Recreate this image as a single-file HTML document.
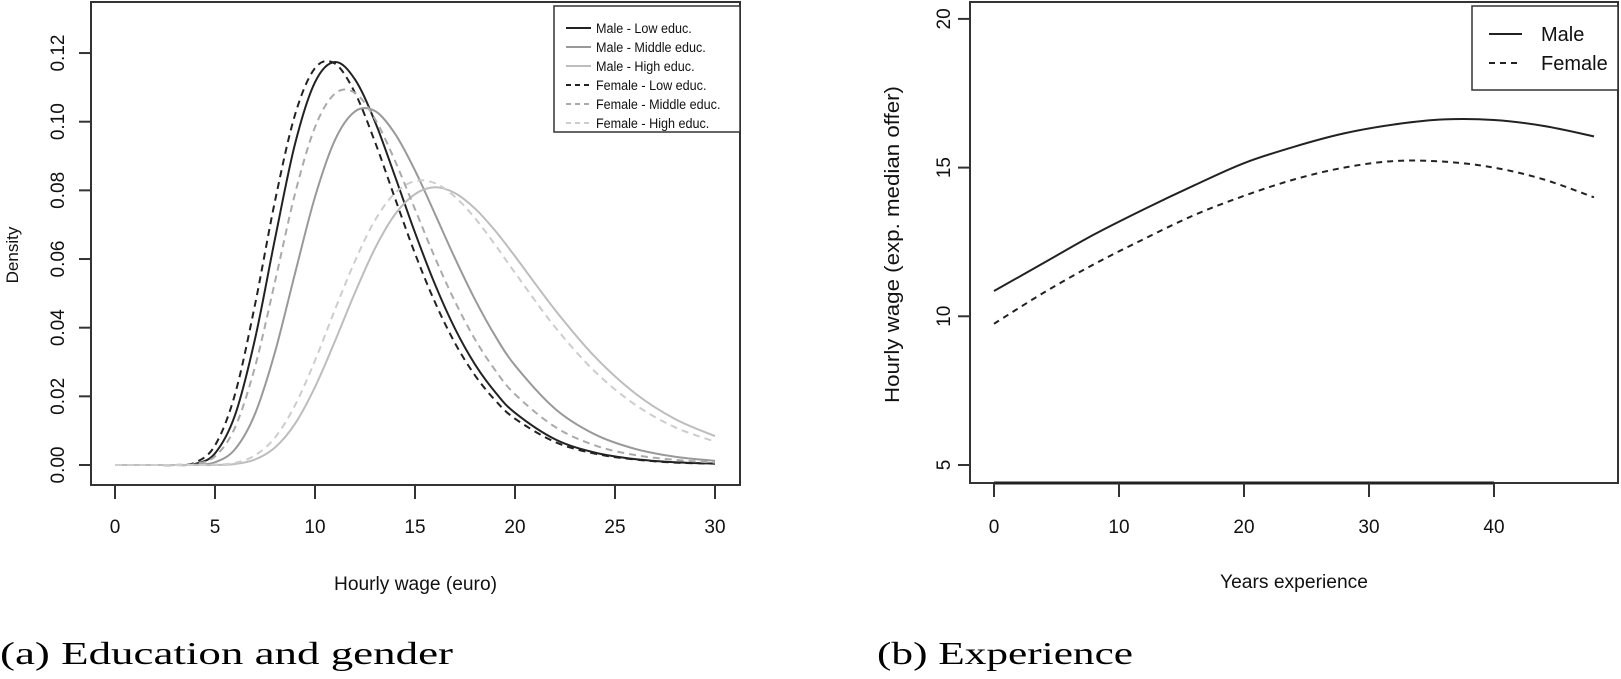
<!DOCTYPE html>
<html><head><meta charset="utf-8"><style>
html,body{margin:0;padding:0;background:#fff;}
svg{display:block;font-family:"Liberation Sans",sans-serif;}
</style></head><body>
<svg id="fig" width="1621" height="679" viewBox="0 0 1621 679" xmlns="http://www.w3.org/2000/svg">
<g id="chartA"></g>
<g id="chartB"></g>
<text x="0" y="664" font-family="Liberation Serif, serif" font-size="32" textLength="453" lengthAdjust="spacingAndGlyphs">(a) Education and gender</text>
<text x="877" y="664" font-family="Liberation Serif, serif" font-size="32" textLength="256" lengthAdjust="spacingAndGlyphs">(b) Experience</text>
</svg>
<script>
// ---- Chart A data ----
const wageX = [0,2,3,4,5,6,7,8,9,10,11,12,13,14,15,16,17,18,19,20,22,24,26,28,30];
const maleLow = [0,0,0,0.0003,0.0034,0.0145,0.0367,0.0659,0.0935,0.1115,0.1174,0.1123,0.1000,0.0841,0.0677,0.0526,0.0397,0.0293,0.0213,0.0152,0.0075,0.0036,0.0017,0.0008,0.0004];
const maleMid = [0,0,0,0.0001,0.0008,0.0046,0.0149,0.0329,0.0558,0.0781,0.0947,0.1030,0.1031,0.0965,0.0858,0.0731,0.0602,0.0482,0.0377,0.0290,0.0164,0.0089,0.0047,0.0024,0.0012];
const maleHigh = [0,0,0,0,0,0.0003,0.0016,0.0051,0.0120,0.0227,0.0361,0.0502,0.0631,0.0730,0.0789,0.0809,0.0792,0.0747,0.0683,0.0608,0.0452,0.0315,0.0209,0.0134,0.0084];
const femLow = [0,0,0,0.0007,0.0057,0.0206,0.0467,0.0769,0.1020,0.1156,0.1169,0.1084,0.0941,0.0777,0.0616,0.0474,0.0355,0.0261,0.0189,0.0135,0.0067,0.0033,0.0016,0.0007,0.0004];
const femMid = [0,0,0,0.0003,0.0025,0.0109,0.0286,0.0534,0.0790,0.0984,0.1082,0.1084,0.1008,0.0886,0.0745,0.0604,0.0476,0.0366,0.0277,0.0206,0.0111,0.0057,0.0029,0.0015,0.0007];
const femHigh = [0,0,0,0,0.0001,0.0006,0.0028,0.0080,0.0174,0.0304,0.0453,0.0594,0.0713,0.0792,0.0827,0.0821,0.0781,0.0719,0.0642,0.0560,0.0402,0.0272,0.0176,0.0110,0.0068];
const wageTicks = [0,5,10,15,20,25,30];
const densTicks = ["0.00","0.02","0.04","0.06","0.08","0.10","0.12"];
const legendA = ["Male - Low educ.","Male - Middle educ.","Male - High educ.","Female - Low educ.","Female - Middle educ.","Female - High educ."];
// ---- Chart B data ----
const expX = [0,4,8,12,16,20,24,28,32,36,40,44,48];
const maleWage = [10.85,11.8,12.75,13.6,14.4,15.15,15.7,16.15,16.45,16.62,16.6,16.4,16.05];
const femWage = [9.75,10.8,11.75,12.6,13.4,14.05,14.6,15.0,15.22,15.2,15.0,14.6,14.0];
const expTicks = [0,10,20,30,40];
const wageYTicks = [5,10,15,20];
const legendB = ["Male","Female"];

const NS="http://www.w3.org/2000/svg";
function mk(parent,tag,attrs,text){const e=document.createElementNS(NS,tag);for(const k in attrs)e.setAttribute(k,attrs[k]);if(text!==undefined)e.textContent=text;parent.appendChild(e);return e;}
function smooth(pts){let d="M"+pts[0][0].toFixed(2)+","+pts[0][1].toFixed(2);
 for(let i=0;i<pts.length-1;i++){const p0=pts[i-1]||pts[i],p1=pts[i],p2=pts[i+1],p3=pts[i+2]||p2;
  const c1=[p1[0]+(p2[0]-p0[0])/6,p1[1]+(p2[1]-p0[1])/6],c2=[p2[0]-(p3[0]-p1[0])/6,p2[1]-(p3[1]-p1[1])/6];
  d+=" C"+c1[0].toFixed(2)+","+c1[1].toFixed(2)+" "+c2[0].toFixed(2)+","+c2[1].toFixed(2)+" "+p2[0].toFixed(2)+","+p2[1].toFixed(2);}
 return d;}

// Chart A
const A=document.getElementById('chartA');
const ax=v=>115+v*20, ay=v=>465-v*3433;
let r=mk(A,'rect',{x:91,y:2,width:649,height:483,fill:'none',stroke:'#333','stroke-width':2});


wageTicks.forEach(t=>{let l=mk(A,'line',{x1:ax(t),x2:ax(t),y1:485,y2:499,stroke:'#333','stroke-width':2});
 
 
 let tx=mk(A,'text',{x:ax(t),y:533,'font-size':19,'text-anchor':'middle',fill:'#111'},String(t));
 
 });
densTicks.forEach(t=>{const y=ay(parseFloat(t));let l=mk(A,'line',{x1:79,x2:91,y1:y,y2:y,stroke:'#333','stroke-width':2});
 
 
 let tx=mk(A,'text',{x:0,y:0,'font-size':19,'text-anchor':'middle',fill:'#111',transform:`translate(64,${y}) rotate(-90)`},t);
 
 });
let xt=mk(A,'text',{x:334,y:590,'font-size':19,fill:'#111',textLength:163,lengthAdjust:'spacingAndGlyphs'},"Hourly wage (euro)");


let yt=mk(A,'text',{x:0,y:0,'font-size':17,'text-anchor':'middle',fill:'#111',transform:'translate(18,255) rotate(-90)'},"Density");


const seriesA=[[maleLow,'#222',''],[maleMid,'#999',''],[maleHigh,'#bdbdbd',''],[femLow,'#222','7,5'],[femMid,'#aaa','7,5'],[femHigh,'#cdcdcd','7,5']];
const namesA=['male-low','male-middle','male-high','female-low','female-middle','female-high'];
seriesA.forEach((s,i)=>{const pts=wageX.map((x,j)=>[ax(x),ay(s[0][j])]);
 let p=mk(A,'path',{d:smooth(pts),fill:'none',stroke:s[1],'stroke-width':2,'stroke-dasharray':s[2]||'none'});
 
 });
let lg=mk(A,'g',{});


mk(lg,'rect',{x:554,y:6,width:186,height:126,fill:'#fff',stroke:'#333','stroke-width':1.5});
legendA.forEach((n,i)=>{const y=28+i*19;const s=seriesA[i];
 let e=mk(lg,'g',{});
 
 
 mk(e,'line',{x1:566,x2:591,y1:y,y2:y,stroke:s[1],'stroke-width':2,'stroke-dasharray':s[2]?'5,4':'none'});
 mk(e,'text',{x:596,y:y+5,'font-size':14,fill:'#111',transform:`translate(596,0) scale(0.9,1) translate(-596,0)`},n);});

// Chart B
const B=document.getElementById('chartB');
const bx=v=>994+v*12.5, by=v=>465-(v-5)*29.74;
r=mk(B,'rect',{x:970,y:2,width:648,height:481,fill:'none',stroke:'#333','stroke-width':2});


let axl=mk(B,'line',{x1:bx(0),x2:bx(40),y1:483,y2:483,stroke:'#222','stroke-width':3});


expTicks.forEach(t=>{let l=mk(B,'line',{x1:bx(t),x2:bx(t),y1:483,y2:497,stroke:'#333','stroke-width':2});
 
 
 let tx=mk(B,'text',{x:bx(t),y:533,'font-size':19,'text-anchor':'middle',fill:'#111'},String(t));
 
 });
wageYTicks.forEach(t=>{const y=by(t);let l=mk(B,'line',{x1:958,x2:970,y1:y,y2:y,stroke:'#333','stroke-width':2});
 
 
 let tx=mk(B,'text',{x:0,y:0,'font-size':19,'text-anchor':'middle',fill:'#111',transform:`translate(950,${y}) rotate(-90)`},String(t));
 
 });
xt=mk(B,'text',{x:1220,y:588,'font-size':19,fill:'#111',textLength:148,lengthAdjust:'spacingAndGlyphs'},"Years experience");


yt=mk(B,'text',{x:0,y:0,'font-size':20,fill:'#111',textLength:317,lengthAdjust:'spacingAndGlyphs',transform:'translate(899,403) rotate(-90)'},"Hourly wage (exp. median offer)");


const seriesB=[[maleWage,''],[femWage,'6,5']];
seriesB.forEach((s,i)=>{const pts=expX.map((x,j)=>[bx(x),by(s[0][j])]);
 let p=mk(B,'path',{d:smooth(pts),fill:'none',stroke:'#222','stroke-width':2,'stroke-dasharray':s[1]||'none'});
 
 });
lg=mk(B,'g',{});


mk(lg,'rect',{x:1472,y:6,width:146,height:84,fill:'#fff',stroke:'#333','stroke-width':1.5});
legendB.forEach((n,i)=>{const y=34+i*29;
 let e=mk(lg,'g',{});
 
 
 mk(e,'line',{x1:1489,x2:1522,y1:y,y2:y,stroke:'#222','stroke-width':2,'stroke-dasharray':seriesB[i][1]||'none'});
 mk(e,'text',{x:1541,y:y+7,'font-size':20,fill:'#111'},n);});
</script>
</body></html>
